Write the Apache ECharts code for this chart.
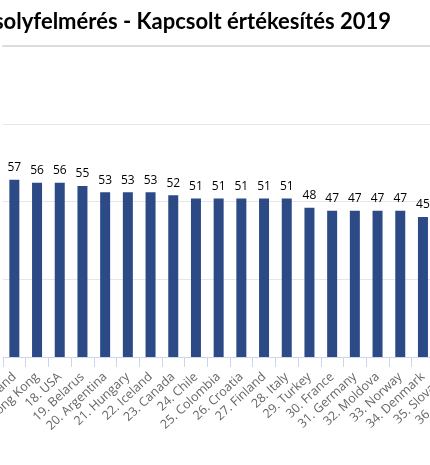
<!DOCTYPE html>
<html>
<head>
<meta charset="utf-8">
<script src="https://cdn.jsdelivr.net/npm/echarts@6/dist/echarts.min.js"></script>
<style>
html,body{margin:0;padding:0;overflow:hidden;background:#fff;width:430px;height:465px;}
#c{position:absolute;left:0;top:0;width:520px;height:465px;}
</style>
</head>
<body>
<div id="c"></div>
<script>
const titleText = "Mosolyfelmérés - Kapcsolt értékesítés 2019";
const categories = ["16. Poland","17. Hong Kong","18. USA","19. Belarus","20. Argentina","21. Hungary","22. Iceland","23. Canada","24. Chile","25. Colombia","26. Croatia","27. Finland","28. Italy","29. Turkey","30. France","31. Germany","32. Moldova","33. Norway","34. Denmark","35. Slovakia","36. Slovenia"];
const values = [57,56,56,55,53,53,53,52,51,51,51,51,51,48,47,47,47,47,45,45,44];
const yTicks = {min:0, max:100, interval:25};

const chart = echarts.init(document.getElementById('c'), null, {renderer:'canvas'});
chart.setOption({
  animation:false,
  title:{
    text:titleText, right:124, top:6,
    textStyle:{fontFamily:'Lato', fontWeight:'bold', fontSize:22, color:'#000'}
  },
  grid:{left:3, right:40.3, top:46, bottom:108, containLabel:false, outerBoundsMode:'none'},
  xAxis:[{
    type:'category', data:categories, position:'bottom',
    axisLine:{show:true, lineStyle:{color:'#ccd6eb', width:1}},
    axisTick:{show:true, length:10, lineStyle:{color:'#ccd6eb'}},
    axisLabel:{interval:0, rotate:43, margin:18, padding:[12,0,0,0], color:'#666', fontSize:12.5, fontFamily:'Open Sans'},
    splitLine:{show:false}
  },{
    type:'category', data:categories, position:'top',
    axisLine:{show:true, lineStyle:{color:'#dcdcdc', width:2}},
    axisTick:{show:false}, axisLabel:{show:false}
  }],
  yAxis:{
    type:'value', min:yTicks.min, max:yTicks.max, interval:yTicks.interval,
    axisLine:{show:false}, axisTick:{show:false}, axisLabel:{show:false},
    splitLine:{show:true, lineStyle:{color:'#e6e6e6', width:1}}
  },
  series:[{
    type:'bar', data:values, barWidth:10,
    itemStyle:{color:'#2c4a86'},
    label:{show:true, position:'top', distance:6, color:'#000', fontSize:12, fontFamily:'Open Sans'}
  }]
});
</script>
</body>
</html>
